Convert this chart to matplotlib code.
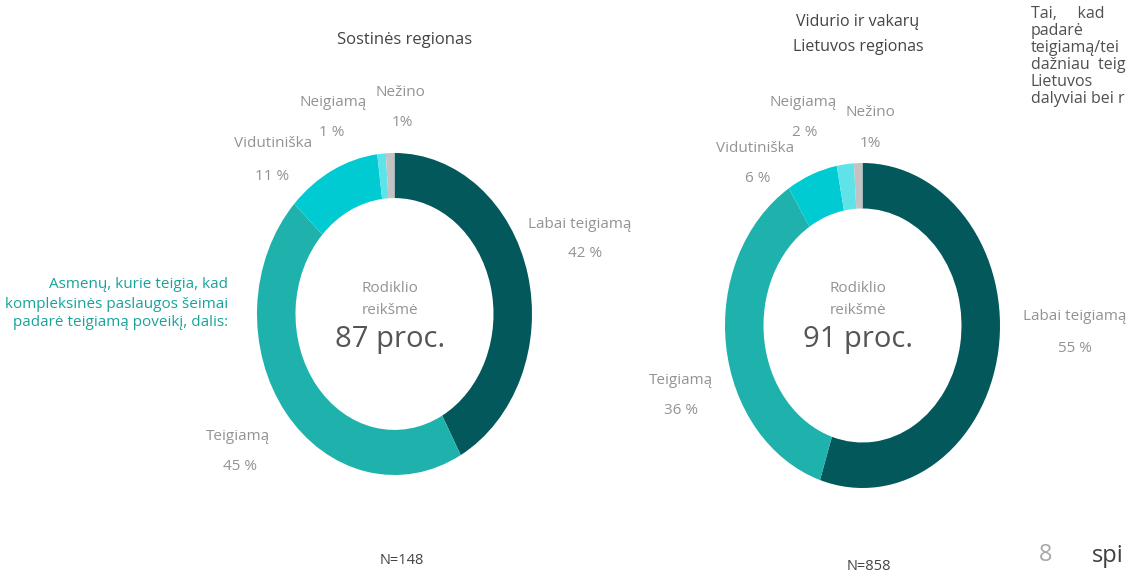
import matplotlib
matplotlib.use('Agg')
import matplotlib.pyplot as plt

plt.rcParams['font.family'] = ['Open Sans', 'DejaVu Sans']

# --- data ---
categories = ['Labai teigiamą', 'Teigiamą', 'Vidutiniška', 'Neigiamą', 'Nežino']
colors = ['#03585b', '#1fb2ad', '#00cbd3', '#5fe3e8', '#c3c3c3']
sostine_vals = [42, 45, 11, 1, 1]
sostine_lbls = ['42 %', '45 %', '11 %', '1 %', '1%']
vakaru_vals = [55, 36, 6, 2, 1]
vakaru_lbls = ['55 %', '36 %', '6 %', '2 %', '1%']
rodiklis = ['87 proc.', '91 proc.']
n_resp = ['N=148', 'N=858']

W, H = 1130, 574
fig = plt.figure(figsize=(W / 100, H / 100), dpi=100)
fig.patch.set_facecolor('white')

GRAY = '#939393'
DARK = '#444444'


def txt(x, y, s, **kw):
    # x, y in pixels from the top-left corner
    kw.setdefault('ha', 'center')
    kw.setdefault('va', 'center')
    fig.text(x / W, 1 - y / H, s, **kw)


def donut(box, vals):
    x0, y0, x1, y1 = box
    ax = fig.add_axes([x0 / W, 1 - y1 / H, (x1 - x0) / W, (y1 - y0) / H])
    ax.pie(vals, colors=colors, startangle=90, counterclock=False,
           wedgeprops=dict(width=0.28, edgecolor='none'))
    ax.set_aspect('auto')
    ax.set_xlim(-1, 1)
    ax.set_ylim(-1, 1)
    ax.axis('off')
    return ax


donut((257, 153, 532, 475), sostine_vals)
donut((725, 163, 1000, 488), vakaru_vals)

# titles
txt(405, 40, 'Sostinės regionas', fontsize=12, color=DARK)
txt(858, 22, 'Vidurio ir vakarų', fontsize=11.5, color=DARK)
txt(858, 47, 'Lietuvos regionas', fontsize=11.5, color=DARK)

# label positions (name, value) in pixels
pos_left = [((580, 224), (585, 254)), ((238, 437), (240, 467)),
            ((273, 143), (272, 177)), ((333, 103), (332, 132)),
            ((400, 93), (402, 123))]
pos_right = [((1075, 317), (1075, 349)), ((681, 381), (681, 411)),
             ((755, 148), (758, 178)), ((803, 102), (805, 132)),
             ((870, 113), (870, 143))]

for (p1, p2), cat, lab in zip(pos_left, categories, sostine_lbls):
    txt(*p1, cat, fontsize=11, color=GRAY)
    txt(*p2, lab, fontsize=11, color=GRAY)
for (p1, p2), cat, lab in zip(pos_right, categories, vakaru_lbls):
    txt(*p1, cat, fontsize=11, color=GRAY)
    txt(*p2, lab, fontsize=11, color=GRAY)

# centre texts
for cx, val in zip([390, 858], rodiklis):
    txt(cx, 288, 'Rodiklio', fontsize=11, color=GRAY)
    txt(cx, 310, 'reikšmė', fontsize=11, color=GRAY)
    txt(cx, 339, val, fontsize=21, color='#555555')

# N
txt(402, 560, n_resp[0], fontsize=10.5, color=DARK)
txt(869, 567, n_resp[1], fontsize=10.5, color=DARK)

# left side description
TEAL = '#17a39b'
for y, s in zip([285, 304, 322], ['Asmenų, kurie teigia, kad',
                                  'kompleksinės paslaugos šeimai',
                                  'padarė teigiamą poveikį, dalis:']):
    txt(228, y, s, ha='right', fontsize=11, color=TEAL)

# right side text (cut by the page edge)
for y, s in zip([14, 31, 48, 65, 82, 99],
                ['Tai,     kad', 'padarė', 'teigiamą/tei',
                 'dažniau  teig', 'Lietuvos', 'dalyviai bei r']):
    txt(1031, y, s, ha='left', fontsize=11.5, color='#505050')

txt(1046, 555, '8', fontsize=17, color='#a8a8a8')
txt(1092, 556, 'spi', ha='left', fontsize=17, color='#404040')

fig.savefig('out.png', dpi=100)
